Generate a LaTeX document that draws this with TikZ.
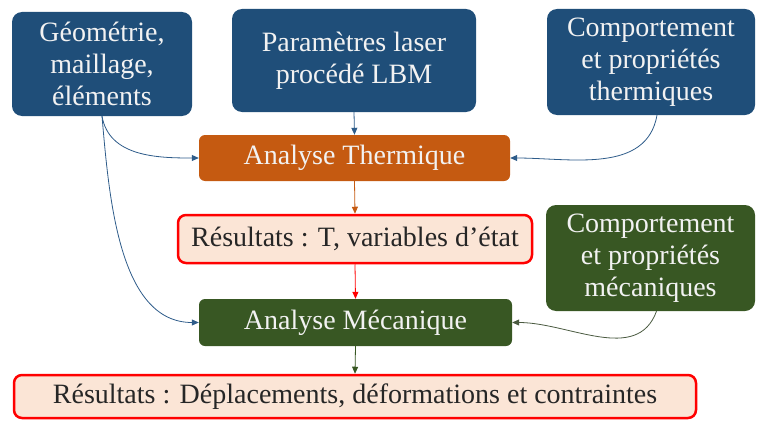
\documentclass[tikz,border=0pt]{standalone}
\usepackage{fontspec}
\setmainfont{Liberation Serif}
\usetikzlibrary{arrows.meta,positioning,calc}
\definecolor{deepblue}{HTML}{1F4E79}
\definecolor{burnt}{HTML}{C55A11}
\definecolor{olive}{HTML}{385723}
\definecolor{blush}{HTML}{FBE5D6}
\definecolor{linkblue}{HTML}{2E5C8A}
\definecolor{linkgrey}{HTML}{4A5A40}

\begin{document}
\begin{tikzpicture}[x=1pt, y=-1pt,
    input/.style={fill=deepblue, draw=none, rounded corners=10pt, align=center, text=white!95!black, font=\fontsize{28}{32}\selectfont, inner sep=0pt},
    thermo/.style={fill=burnt, draw=none, rounded corners=6pt, minimum width=311pt, minimum height=46pt, text=white!95!black, font=\fontsize{28}{32}\selectfont, inner sep=0pt},
    meca/.style={fill=olive, draw=none, rounded corners=6pt, minimum width=313pt, minimum height=47pt, text=white!95!black, font=\fontsize{28}{32}\selectfont, inner sep=0pt},
    result/.style={fill=blush, draw=red, line width=2.5pt, rounded corners=8pt, text=black!85, font=\fontsize{28}{32}\selectfont, inner sep=0pt},
    link/.style={-{Triangle[length=7pt,width=6pt]}, line width=0.8pt}
]
\useasboundingbox (0,0) rectangle (757,420);

% inputs
\node[input, minimum width=180pt, minimum height=104pt] (geo) at (102,64) {Géométrie,\\maillage,\\éléments};
\node[input, minimum width=244pt, minimum height=103pt] (laser) at (354,60.5) {Paramètres laser\\procédé LBM};
\node[input, minimum width=208pt, minimum height=106pt] (thprop) at (651,62) {Comportement\\et propriétés\\thermiques};
\node[input, fill=olive, minimum width=209pt, minimum height=106pt] (mecprop) at (650.5,258) {Comportement\\et propriétés\\mécaniques};

% analyses and results
\node[thermo] (ath) at (354.5,158) {Analyse Thermique};
\node[result, minimum width=354pt, minimum height=48pt] (resT) at (355,239) {Résultats : T, variables d’état};
\node[meca] (amec) at (355.5,322.5) {Analyse Mécanique};
\node[result, minimum width=682pt, minimum height=43pt] (resF) at (355,396.5) {Résultats : Déplacements, déformations et contraintes};

% connectors
\draw[link, linkblue] (geo.south) to[out=-80, in=180] (ath.west);
\draw[link, linkblue] (geo.south) to[out=-85, in=180, looseness=0.9] (amec.west);
\draw[link, linkblue] (laser.south) -- (ath.north);
\draw[link, linkblue] ([xshift=6pt]thprop.south) to[out=-100, in=0] (ath.east);
\draw[link, burnt] (ath.south) -- (resT.north);
\draw[link, red] (resT.south) -- (amec.north);
\draw[link, linkgrey] ([xshift=6pt]mecprop.south) to[out=-110, in=0] (amec.east);
\draw[link, olive] (amec.south) -- (resF.north);

\end{tikzpicture}
\end{document}
